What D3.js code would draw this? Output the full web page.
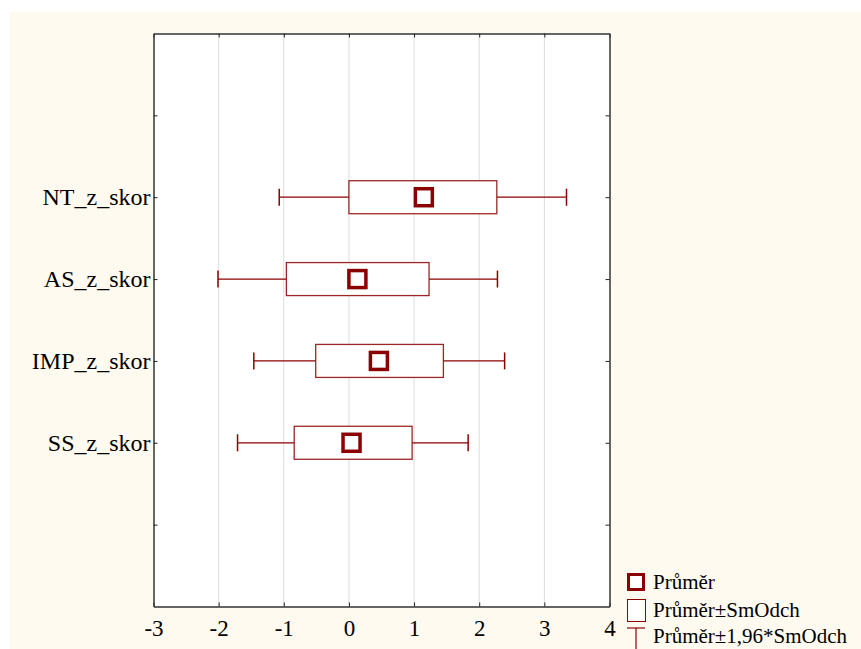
<!DOCTYPE html>
<html>
<head>
<meta charset="utf-8">
<script src="https://cdn.jsdelivr.net/npm/d3@7"></script>
<style>
  body { margin: 0; background: #fff; }
  text { font-family: "Liberation Serif", "Times New Roman", serif; fill: #000; }
</style>
</head>
<body>
<div id="chart"></div>
<script>
// data
const categories = ['NT_z_skor', 'AS_z_skor', 'IMP_z_skor', 'SS_z_skor'];
const means = [1.15, 0.13, 0.46, 0.04];
const sdLow = [0.0, -0.96, -0.51, -0.84];
const sdHigh = [2.27, 1.23, 1.45, 0.97];
const ciLow = [-1.07, -2.01, -1.46, -1.71];
const ciHigh = [3.34, 2.28, 2.39, 1.83];
const xTicks = [-3, -2, -1, 0, 1, 2, 3, 4];
const legendLabels = ['Průměr', 'Průměr±SmOdch', 'Průměr±1,96*SmOdch'];

const width = 861, height = 649;
const margin = { top: 33.5, right: 251.5, bottom: 42.5, left: 153.5 };
const dark = '#8b0000';

const svg = d3.select('#chart').append('svg')
    .attr('width', width)
    .attr('height', height);

// pozadi
svg.append('rect')
    .attr('x', 10).attr('y', 12)
    .attr('width', width - 10).attr('height', height - 12)
    .attr('fill', '#fefaef');

const x = d3.scaleLinear()
    .domain([-3, 4])
    .range([margin.left, width - margin.right]);

// 8 pozic, kategorie na 2..5, prazdne ticky na 1 a 6
const y = d3.scalePoint()
    .domain(d3.range(8))
    .range([margin.top, height - margin.bottom]);

const rows = categories.map((c, i) => ({
    name: c, mean: means[i], lo: sdLow[i], hi: sdHigh[i], wlo: ciLow[i], whi: ciHigh[i], pos: i + 2
}));

svg.append('rect')
    .attr('x', margin.left).attr('y', margin.top)
    .attr('width', x(4) - x(-3)).attr('height', y(7) - y(0))
    .attr('fill', '#fff');

// mrizka
svg.append('g').selectAll('line')
    .data(xTicks.slice(1, -1))
    .enter().append('line')
    .attr('x1', d => x(d)).attr('x2', d => x(d))
    .attr('y1', margin.top).attr('y2', y(7))
    .attr('stroke', '#dcdcdc').attr('stroke-width', 1);

// osy
const bottomAxis = svg.append('g')
    .attr('transform', `translate(0,${y(7)})`)
    .call(d3.axisBottom(x).tickValues(xTicks).tickSizeInner(-4).tickSizeOuter(0)
        .tickPadding(13).tickFormat(d => String(d)));
bottomAxis.selectAll('text').style('font-size', '23px');

svg.append('g')
    .attr('transform', `translate(0,${margin.top})`)
    .call(d3.axisTop(x).tickValues(xTicks).tickSizeInner(-4).tickSizeOuter(0).tickFormat(''));

const leftAxis = svg.append('g')
    .attr('transform', `translate(${margin.left},0)`)
    .call(d3.axisLeft(y).tickValues(d3.range(1, 7)).tickSizeInner(-4).tickSizeOuter(0)
        .tickPadding(3).tickFormat(d => categories[d - 2] || ''));
leftAxis.selectAll('text').style('font-size', '24px');

svg.append('g')
    .attr('transform', `translate(${x(4)},0)`)
    .call(d3.axisRight(y).tickValues(d3.range(1, 7)).tickSizeInner(-4).tickSizeOuter(0).tickFormat(''));

svg.selectAll('.domain').attr('stroke', '#333').attr('stroke-width', 1.5);
svg.selectAll('.tick line').attr('stroke', '#222');

// krabice
const boxH = 33, capH = 17, markS = 17;
const g = svg.append('g').selectAll('g')
    .data(rows)
    .enter().append('g')
    .attr('transform', d => `translate(0,${y(d.pos)})`);

g.append('line')
    .attr('x1', d => x(d.wlo)).attr('x2', d => x(d.lo))
    .attr('stroke', dark).attr('stroke-width', 1.2);
g.append('line')
    .attr('x1', d => x(d.hi)).attr('x2', d => x(d.whi))
    .attr('stroke', dark).attr('stroke-width', 1.2);
g.append('line')
    .attr('x1', d => x(d.wlo)).attr('x2', d => x(d.wlo))
    .attr('y1', -capH / 2).attr('y2', capH / 2)
    .attr('stroke', dark).attr('stroke-width', 1.5);
g.append('line')
    .attr('x1', d => x(d.whi)).attr('x2', d => x(d.whi))
    .attr('y1', -capH / 2).attr('y2', capH / 2)
    .attr('stroke', dark).attr('stroke-width', 1.5);
g.append('rect')
    .attr('x', d => x(d.lo)).attr('y', -boxH / 2)
    .attr('width', d => x(d.hi) - x(d.lo)).attr('height', boxH)
    .attr('fill', '#fff').attr('stroke', dark).attr('stroke-width', 1.3).attr('stroke-opacity', 0.85);
g.append('rect')
    .attr('x', d => x(d.mean) - markS / 2).attr('y', -markS / 2)
    .attr('width', markS).attr('height', markS)
    .attr('fill', '#fff').attr('stroke', dark).attr('stroke-width', 3.5);

// legenda
const lx = 627, lw = 18;
const leg = svg.append('g');
leg.append('rect')
    .attr('x', lx + 1.5).attr('y', 574.5).attr('width', lw - 3).attr('height', lw - 3)
    .attr('fill', '#fff').attr('stroke', dark).attr('stroke-width', 3);
leg.append('rect')
    .attr('x', lx + 0.5).attr('y', 599.5).attr('width', lw).attr('height', 22)
    .attr('fill', '#fff').attr('stroke', dark).attr('stroke-width', 1);
leg.append('line')
    .attr('x1', lx).attr('x2', lx + lw).attr('y1', 628).attr('y2', 628)
    .attr('stroke', dark).attr('stroke-width', 1.2);
leg.append('line')
    .attr('x1', lx + lw / 2).attr('x2', lx + lw / 2).attr('y1', 628).attr('y2', 649)
    .attr('stroke', dark).attr('stroke-width', 1.2);
leg.selectAll('text')
    .data(legendLabels)
    .enter().append('text')
    .attr('x', 653)
    .attr('y', (d, i) => [589, 617, 643][i])
    .style('font-size', '21px')
    .text(d => d);
</script>
</body>
</html>
